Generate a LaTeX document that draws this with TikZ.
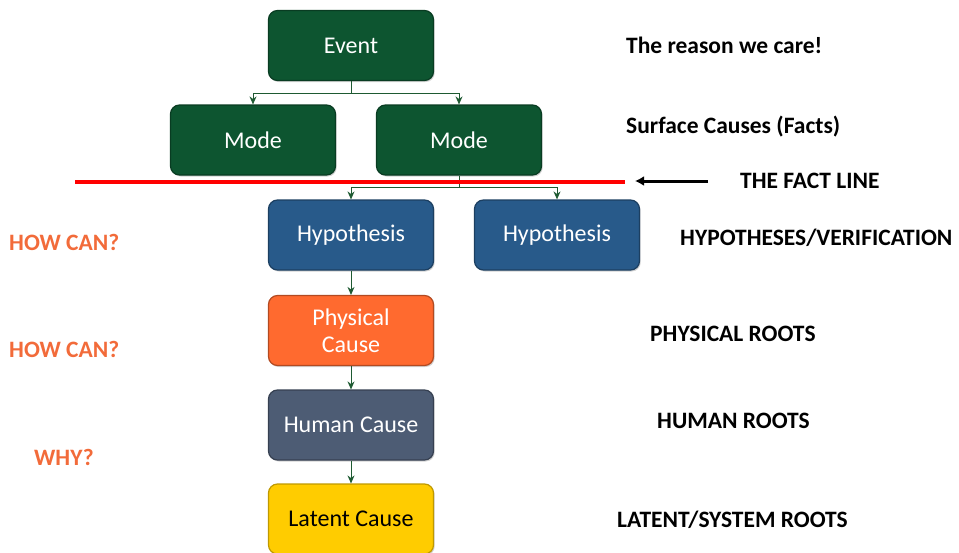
\documentclass[tikz,border=0pt]{standalone}
\usepackage{fontspec}
\setmainfont{Carlito}
\usetikzlibrary{arrows.meta,calc,shadows}
\definecolor{evgreen}{HTML}{0D5530}
\definecolor{hypblue}{HTML}{285A8A}
\definecolor{physorange}{HTML}{FF6A2F}
\definecolor{humslate}{HTML}{4D5C74}
\definecolor{latyellow}{HTML}{FFCC00}
\definecolor{connc}{HTML}{1E5A32}
\definecolor{askorange}{HTML}{F26B3A}
\tikzset{
  box/.style={rounded corners=9pt, minimum width=165pt, minimum height=70pt,
    inner sep=2pt, align=center, font=\fontsize{24}{29}\selectfont, line width=1.2pt,
    drop shadow={opacity=0.35, shadow xshift=1.2pt, shadow yshift=-1.5pt}},
  greenbox/.style={box, fill=evgreen, draw=evgreen!70!black, text=white},
  bluebox/.style={box, fill=hypblue, draw=hypblue!70!black, text=white},
  orangebox/.style={box, fill=physorange, draw=physorange!70!black, text=white},
  slatebox/.style={box, fill=humslate, draw=humslate!70!black, text=white},
  yellowbox/.style={box, fill=latyellow, draw=latyellow!75!black, text=black},
  conn/.style={draw=connc, line width=0.9pt, -{Stealth[length=8pt,width=7pt]}},
  connplain/.style={draw=connc, line width=0.9pt},
  rlabel/.style={anchor=west, font=\bfseries\fontsize{23.5}{28}\selectfont, text=black, inner sep=0pt},
  llabel/.style={anchor=west, font=\bfseries\fontsize{23.5}{28}\selectfont, text=askorange, inner sep=0pt}
}
\begin{document}
\begin{tikzpicture}[x=1pt,y=-1pt]
\useasboundingbox (0,0) rectangle (959,552);
\node[greenbox] (ev) at (351,45.5) {Event};
\node[greenbox] (m1) at (253,140) {Mode};
\node[greenbox] (m2) at (459,140) {Mode};
\node[bluebox] (h1) at (351,235) {Hypothesis};
\node[bluebox] (h2) at (557,235) {Hypothesis};
\node[orangebox] (pc) at (351,330.5) {Physical\\[-2pt]Cause};
\node[slatebox] (hc) at (351,425) {Human Cause};
\node[yellowbox] (lc) at (351,519) {Latent Cause};

\coordinate (j1) at ($(ev.south)+(0,12)$);
\draw[connplain] (ev.south) -- (j1);
\draw[conn] (j1) -| (m1.north);
\draw[conn] (j1) -| (m2.north);
\coordinate (j2) at ($(m2.south)+(0,12)$);
\draw[connplain] (m2.south) -- (j2);
\draw[conn] (j2) -| (h1.north);
\draw[conn] (j2) -| (h2.north);
\draw[conn] (h1.south) -- (pc.north);
\draw[conn] (pc.south) -- (hc.north);
\draw[conn] (hc.south) -- (lc.north);

\coordinate (fl1) at (75,182);
\coordinate (fl2) at (625,182);
\draw[red, line width=4pt] (fl1) -- (fl2);
\coordinate (ar1) at (708,181);
\coordinate (ar2) at (635,181);
\draw[line width=3pt, -{Latex[length=9pt,width=10pt]}] (ar1) -- (ar2);

\node[rlabel] (t1) at (626,45) {The reason we care!};
\node[rlabel] (t2) at (626,127) {Surface Causes (Facts)};
\node[rlabel] (t3) at (740,181) {THE FACT LINE};
\node[rlabel] (t4) at (680,238) {HYPOTHESES/VERIFICATION};
\node[rlabel] (t5) at (650,334) {PHYSICAL ROOTS};
\node[rlabel] (t6) at (657,421) {HUMAN ROOTS};
\node[rlabel] (t7) at (617,520) {LATENT/SYSTEM ROOTS};

\node[llabel] (q1) at (9,242) {HOW CAN?};
\node[llabel] (q2) at (9,349) {HOW CAN?};
\node[llabel] (q3) at (34,457) {WHY?};
\end{tikzpicture}
\end{document}
